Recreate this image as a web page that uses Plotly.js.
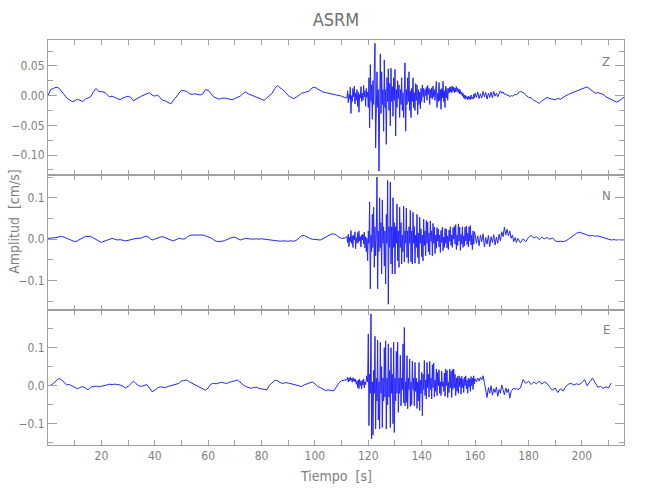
<!DOCTYPE html>
<html>
<head>
<meta charset="utf-8">
<script src="https://cdn.plot.ly/plotly-3.0.1.min.js"></script>
<style>html,body{margin:0;padding:0;background:#fff;}#chart{width:650px;height:500px;}</style>
</head>
<body>
<div id="chart"></div>
<script>
// Sampling of the record: pre-event every 1 s, strong motion every 0.25 s,
// coda every 0.5 s, late coda every 1 s
const segStarts = [0, 112, 160, 176];
const segSteps = [1, 0.25, 0.5, 1];

const channels = ['Z', 'N', 'E'];
const xTickVals = [20, 40, 60, 80, 100, 120, 140, 160, 180, 200];
const xMinorVals = [10, 30, 50, 70, 90, 110, 130, 150, 170, 190, 210];

// ---- Z component (cm/s) ----
const zPre = [0.000,0.010,0.012,0.014,0.013,0.008,0.002,-0.004,-0.007,-0.010,-0.009,-0.006,-0.008,-0.010,-0.006,-0.004,-0.002,0.006,0.012,0.007,
0.006,0.006,0.002,-0.002,-0.001,-0.003,-0.005,-0.007,-0.004,-0.002,-0.001,-0.003,-0.009,-0.006,-0.003,-0.001,0.001,0.003,0.005,0.001,
-0.001,0.001,-0.004,-0.008,-0.009,-0.012,-0.014,-0.008,-0.002,0.005,0.009,0.008,0.007,0.003,0.002,0.003,0.002,0.001,0.003,0.010,
0.009,0.003,-0.002,-0.004,-0.006,-0.005,-0.004,-0.005,-0.006,-0.007,-0.005,-0.003,-0.001,0.003,0.006,0.003,0.001,-0.001,-0.002,-0.005,
-0.007,-0.008,-0.004,0.000,0.004,0.012,0.017,0.013,0.010,0.005,0.000,-0.003,-0.005,-0.003,0.000,0.004,0.005,0.006,0.008,0.013,
0.014,0.011,0.008,0.006,0.005,0.004,0.004,0.003,0.002,0.001,-0.001,-0.003];
const zStrong = [
-0.004,0.008,-0.012,0.002,-0.006,0.014,-0.030,0.000,
-0.010,0.012,-0.002,0.016,-0.014,0.004,-0.008,0.010,
-0.018,0.006,-0.028,0.002,-0.004,0.015,-0.010,0.004,
-0.008,0.017,-0.002,0.008,-0.018,0.012,-0.003,0.006,
-0.020,0.030,-0.054,0.052,-0.010,0.018,-0.040,0.025,
-0.015,0.045,0.088,-0.088,-0.030,0.040,-0.020,0.010,
-0.127,0.020,0.070,-0.030,0.040,-0.015,0.010,-0.060,
0.060,-0.020,0.010,-0.082,0.030,-0.010,0.045,-0.025,
0.020,-0.051,0.046,-0.010,0.015,-0.035,0.030,-0.008,
0.044,-0.068,0.010,-0.020,0.025,-0.005,0.018,-0.037,
0.010,-0.015,0.030,-0.025,0.005,-0.037,0.020,0.055,
-0.060,0.010,-0.015,0.030,-0.010,0.040,-0.025,0.008,
-0.037,0.012,-0.010,0.030,-0.020,0.005,-0.025,0.020,
-0.008,0.018,-0.032,0.010,-0.015,0.006,-0.022,0.012,
-0.010,0.018,-0.002,0.012,-0.012,0.010,0.000,0.014,
-0.008,0.017,0.002,0.012,-0.015,0.010,-0.004,0.013,
-0.006,0.016,-0.002,0.010,-0.008,0.020,0.024,-0.020,
0.004,-0.010,0.022,-0.008,0.010,-0.023,0.012,-0.004,
0.024,-0.010,0.008,-0.020,0.016,-0.004,0.012,-0.008,
0.012,0.004,0.014,0.006,0.015,0.005,0.016,0.007,
0.014,0.005,0.013,0.006,0.015,0.007,0.012,0.005,
0.011,0.003,0.009,0.002,0.006,-0.001,0.004,-0.004,
0.001,-0.006,0.000,-0.005,-0.002,-0.007,-0.001,-0.006,
-0.002,-0.007,0.001,-0.005,-0.003,-0.006,0.002,-0.004];
const zCoda = [0.004,-0.003,0.006,-0.005,0.003,-0.004,0.007,-0.002,0.005,-0.006,0.004,-0.003,0.006,-0.004,0.007,-0.001,
0.004,-0.002,0.005,0.008,0.004,0.006,0.002,0.003,0.000,0.001,-0.002,0.000,-0.001,0.001,0.002,0.001];
const zLate = [0.004,0.007,0.005,0.001,-0.003,-0.004,-0.008,-0.010,-0.013,-0.009,-0.006,-0.003,-0.005,-0.006,-0.007,-0.005,-0.006,-0.003,0.000,0.002,
0.004,0.006,0.008,0.009,0.011,0.013,0.0145,0.011,0.007,0.004,0.005,0.004,0.002,-0.002,-0.004,-0.006,-0.008,-0.011,-0.009,-0.005,-0.002];

// ---- N component (cm/s) ----
const nPre = [0.002,0.002,0.003,0.004,0.006,0.007,0.005,0.002,-0.002,-0.005,-0.006,-0.004,0.000,0.005,0.007,0.006,0.007,0.003,-0.001,-0.005,
-0.008,-0.005,-0.002,0.001,0.002,0.000,-0.002,-0.001,-0.003,-0.004,-0.003,-0.001,0.001,0.002,0.002,0.003,0.006,0.007,0.003,-0.002,
0.000,0.003,0.005,0.006,0.003,0.001,-0.002,-0.004,-0.001,0.002,0.001,0.000,0.004,0.009,0.010,0.010,0.009,0.010,0.010,0.008,
0.006,0.003,-0.001,-0.005,-0.006,-0.005,-0.004,-0.001,0.002,0.004,0.005,0.002,-0.002,0.000,0.002,0.001,0.000,0.000,0.001,0.000,
0.001,0.000,-0.001,-0.002,-0.003,-0.004,-0.005,-0.005,-0.004,-0.005,-0.005,-0.004,-0.005,-0.003,0.003,0.008,0.009,0.005,0.002,0.000,
-0.001,-0.001,-0.002,0.001,0.005,0.009,0.012,0.013,0.010,0.005,0.002,0.002];
const nStrong = [
0.006,-0.008,0.012,-0.018,0.004,-0.006,0.021,-0.010,
0.008,-0.020,0.010,-0.002,0.018,-0.023,0.004,-0.010,
0.016,-0.008,0.020,-0.004,0.006,-0.019,0.010,-0.002,
0.012,-0.012,0.017,-0.021,0.006,-0.030,0.002,-0.052,
0.020,-0.010,0.090,-0.120,0.010,-0.030,0.060,-0.020,
0.077,-0.068,0.030,-0.040,0.010,0.150,-0.120,0.020,
-0.030,0.100,-0.020,0.040,-0.084,0.095,-0.010,0.030,
-0.065,0.020,-0.108,0.060,-0.010,0.142,-0.157,0.030,
-0.020,0.138,-0.060,0.030,-0.084,0.100,-0.020,0.040,
-0.084,0.030,-0.010,0.085,-0.052,0.020,-0.068,0.077,
-0.020,0.040,-0.060,0.010,-0.030,0.080,-0.055,0.020,
-0.010,0.075,-0.044,0.020,-0.058,0.030,-0.010,0.070,
-0.055,0.020,-0.060,0.065,-0.010,0.030,-0.058,0.010,
-0.020,0.060,-0.044,0.015,-0.060,0.053,-0.010,0.025,
-0.042,0.010,-0.052,0.048,-0.015,0.020,-0.040,0.045,
-0.010,0.041,-0.030,0.015,-0.038,0.044,-0.005,0.020,
-0.040,0.038,-0.010,0.029,-0.035,0.010,-0.022,0.028,
-0.005,0.024,-0.019,0.010,-0.032,0.021,-0.008,0.029,
-0.028,0.005,-0.020,0.026,-0.010,0.024,-0.021,0.008,
-0.025,0.022,-0.005,0.030,-0.015,0.010,-0.020,0.028,
0.000,0.031,-0.012,0.035,-0.025,0.010,-0.015,0.037,
-0.005,0.029,-0.027,0.012,-0.011,0.030,-0.020,0.008,
-0.016,0.029,-0.004,0.032,-0.013,0.015,-0.019,0.030,
-0.005,0.033,-0.014,0.010,-0.025,0.020,-0.012,0.018];
const nCoda = [0.012,-0.010,0.008,-0.016,0.010,-0.006,0.013,-0.019,0.004,-0.012,0.009,-0.018,0.006,-0.008,0.011,-0.014,
0.005,-0.010,0.012,-0.004,0.018,0.006,0.029,0.010,0.024,0.008,0.020,0.002,0.010,-0.006,0.004,-0.008];
const nLate = [0.002,-0.009,0.001,-0.006,0.004,0.009,0.003,0.006,-0.001,0.005,0.001,0.004,0.000,0.003,-0.004,-0.006,-0.005,-0.006,-0.004,0.000,
0.005,0.010,0.014,0.017,0.015,0.012,0.010,0.008,0.009,0.007,0.008,0.006,0.004,0.001,-0.001,-0.002,-0.001,-0.002,-0.001,-0.002,-0.001];

// ---- E component (cm/s) ----
const ePre = [0.000,0.001,0.006,0.012,0.019,0.016,0.009,0.002,0.003,-0.001,-0.004,-0.008,-0.005,-0.002,-0.006,-0.011,-0.004,-0.002,-0.001,-0.003,
-0.002,0.000,0.002,0.004,0.003,0.004,0.003,0.002,-0.001,-0.006,-0.002,0.004,0.012,0.005,0.000,-0.002,0.001,0.003,-0.006,-0.016,
-0.012,-0.006,-0.003,-0.004,-0.005,-0.002,0.000,0.001,0.002,0.006,0.012,0.014,0.015,0.010,0.006,0.002,-0.001,-0.005,-0.008,-0.012,
-0.006,0.004,0.006,0.005,0.007,0.009,0.007,0.006,0.009,0.012,0.013,0.015,0.008,0.003,-0.002,-0.005,-0.007,-0.005,-0.004,-0.007,
-0.009,-0.010,-0.011,0.001,0.008,0.014,0.013,0.008,0.006,0.008,0.007,0.005,0.004,0.003,0.001,-0.002,0.002,0.005,0.008,0.010,
0.005,-0.002,-0.005,-0.010,-0.013,-0.011,-0.012,-0.014,-0.004,0.008,0.013,0.015];
const eStrong = [
0.016,0.022,0.010,0.020,0.012,0.023,0.014,0.019,
0.009,0.021,0.013,0.018,0.010,0.017,0.004,0.012,
-0.005,0.015,-0.008,0.017,0.000,0.012,-0.009,0.014,
0.002,0.018,-0.006,0.010,0.003,0.015,0.026,0.010,
0.136,-0.105,0.030,-0.020,0.189,-0.140,0.010,-0.130,
0.040,-0.020,0.130,-0.114,0.020,-0.040,0.120,-0.090,
0.010,-0.114,0.114,-0.020,0.050,-0.110,0.020,-0.040,
0.100,-0.030,0.118,-0.114,0.020,-0.050,0.110,-0.030,
0.040,-0.110,0.100,-0.020,0.030,-0.100,0.114,-0.123,
0.020,-0.040,0.090,-0.020,0.114,-0.070,0.020,-0.020,
0.080,-0.053,0.020,-0.010,0.110,-0.045,0.153,-0.053,
0.010,-0.044,0.079,-0.061,0.020,-0.010,0.070,-0.055,
0.010,-0.050,0.065,-0.010,0.020,-0.053,0.061,-0.015,
0.020,-0.060,0.010,-0.040,0.061,-0.065,0.015,-0.020,
0.035,-0.079,0.030,-0.010,0.066,-0.026,0.015,-0.035,
0.061,-0.005,0.030,-0.030,0.064,-0.010,0.020,-0.035,
0.055,-0.005,0.060,-0.030,0.015,-0.015,0.044,-0.026,
0.035,0.000,0.042,-0.020,0.010,-0.026,0.038,-0.002,
0.010,-0.015,0.033,-0.028,0.044,0.000,0.040,-0.031,
0.010,-0.018,0.044,-0.005,0.038,-0.031,0.042,-0.010,
0.044,-0.005,0.030,-0.026,0.020,-0.015,0.024,-0.020,
0.026,-0.002,0.020,-0.022,0.025,-0.005,0.018,-0.018,
0.022,0.000,0.026,-0.008,0.015,-0.020,0.020,-0.004,
0.018,-0.015,0.024,0.000,0.020,-0.010,0.026,0.005];
const eCoda = [0.018,0.010,0.020,0.012,0.022,0.015,0.026,0.008,-0.010,-0.031,-0.005,-0.020,0.000,-0.025,-0.008,-0.018,
-0.004,-0.028,-0.010,-0.020,0.002,-0.015,-0.024,-0.006,-0.018,-0.008,-0.033,-0.015,-0.010,-0.006,-0.010,-0.007];
const eLate = [-0.010,-0.006,0.016,0.006,0.012,0.003,0.010,0.005,0.012,0.004,0.010,0.006,-0.004,-0.012,-0.006,-0.018,-0.008,-0.014,-0.002,0.004,
0.006,0.002,0.005,0.003,0.008,0.016,0.000,0.010,0.020,0.008,-0.004,-0.002,-0.007,-0.003,-0.006,0.007];

function buildTrace(parts) {
  const t = [], v = [];
  parts.forEach((arr, k) => {
    arr.forEach((val, i) => { t.push(segStarts[k] + i * segSteps[k]); v.push(val); });
  });
  return {t, v};
}

const series = [buildTrace([zPre, zStrong, zCoda, zLate]),
                buildTrace([nPre, nStrong, nCoda, nLate]),
                buildTrace([ePre, eStrong, eCoda, eLate])];

const lineColor = '#2525ff';
const axisGray = '#a0a0a0';
const textGray = '#808080';
const fontFam = '"Liberation Sans Narrow", "DejaVu Sans Condensed", "Liberation Sans", sans-serif';

const data = series.map((s, i) => ({
  x: s.t, y: s.v, type: 'scatter', mode: 'lines',
  line: {color: lineColor, width: 1},
  xaxis: i === 0 ? 'x' : 'x' + (i + 1),
  yaxis: i === 0 ? 'y' : 'y' + (i + 1),
  hoverinfo: 'skip', showlegend: false
}));

const xRange = [0, 215.8];
function xAxis(showLabels, anchor) {
  return {
    range: xRange, anchor: anchor, domain: [0, 1],
    showline: true, linecolor: axisGray, linewidth: 1, mirror: 'ticks',
    ticks: 'inside', ticklen: 5, tickcolor: axisGray,
    tickvals: xTickVals, ticktext: xTickVals.map(String),
    minor: {tickvals: xMinorVals, ticks: 'inside', ticklen: 5, tickcolor: axisGray},
    showticklabels: showLabels, showgrid: false, zeroline: false,
    tickfont: {family: fontFam, size: 12, color: textGray}
  };
}
function yAxis(range, dtick, minorDtick, fmt, domain, anchor) {
  return {
    range: range, domain: domain, anchor: anchor,
    showline: true, linecolor: axisGray, linewidth: 1, mirror: 'ticks',
    ticks: 'inside', ticklen: 9, tickcolor: axisGray,
    dtick: dtick, tick0: 0, tickformat: fmt,
    minor: {dtick: minorDtick, tick0: 0, ticks: 'inside', ticklen: 5, tickcolor: axisGray},
    showgrid: false, zeroline: false,
    tickfont: {family: fontFam, size: 12, color: textGray}
  };
}

const annFont = {family: fontFam, size: 13, color: textGray};
const layout = {
  width: 650, height: 500,
  margin: {l: 48, r: 26, t: 40, b: 55},
  paper_bgcolor: '#ffffff', plot_bgcolor: '#ffffff',
  title: {text: 'ASRM', font: {family: fontFam, size: 18, color: '#707070'},
          x: 0.5, xref: 'paper', xanchor: 'center', y: 0.96, yref: 'container', yanchor: 'middle'},
  xaxis: xAxis(false, 'y'),
  xaxis2: xAxis(false, 'y2'),
  xaxis3: xAxis(true, 'y3'),
  yaxis: yAxis([-0.1336, 0.0935], 0.05, 0.025, '.2f', [0.6667, 1], 'x'),
  yaxis2: yAxis([-0.171, 0.155], 0.1, 0.05, '.1f', [0.3333, 0.6667], 'x2'),
  yaxis3: yAxis([-0.156, 0.199], 0.1, 0.05, '.1f', [0, 0.3333], 'x3'),
  annotations: [
    {text: channels[0], xref: 'paper', yref: 'paper', x: 0.969, y: 0.946, showarrow: false,
     xanchor: 'center', yanchor: 'middle', font: annFont},
    {text: channels[1], xref: 'paper', yref: 'paper', x: 0.969, y: 0.615, showarrow: false,
     xanchor: 'center', yanchor: 'middle', font: annFont},
    {text: channels[2], xref: 'paper', yref: 'paper', x: 0.969, y: 0.284, showarrow: false,
     xanchor: 'center', yanchor: 'middle', font: annFont},
    {text: 'Tiempo  [s]', xref: 'paper', yref: 'paper', x: 0.5, y: -0.0765, showarrow: false,
     xanchor: 'center', yanchor: 'middle', font: {family: fontFam, size: 14, color: textGray}},
    {text: 'Amplitud  [cm/s]', xref: 'paper', yref: 'paper', x: -0.059, y: 0.551, showarrow: false,
     textangle: -90, xanchor: 'center', yanchor: 'middle', font: {family: fontFam, size: 14, color: textGray}}
  ]
};

Plotly.newPlot('chart', data, layout, {staticPlot: true, displayModeBar: false});
</script>
</body>
</html>
